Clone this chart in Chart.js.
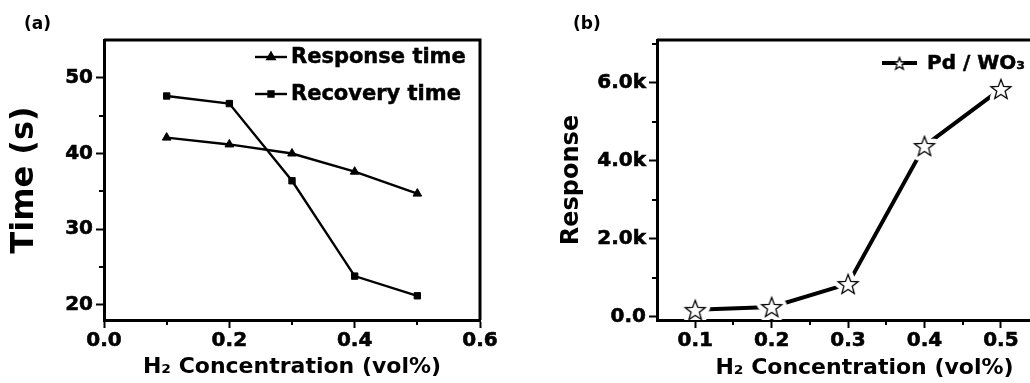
<!DOCTYPE html>
<html><head><meta charset="utf-8">
<script src="https://cdn.jsdelivr.net/npm/chart.js@4/dist/chart.umd.min.js"></script>
<style>
html,body{margin:0;padding:0;background:#fff;overflow:hidden;width:1030px;height:383px;}
#ca{position:absolute;left:0;top:0;}
#cb{position:absolute;left:515px;top:0;}
</style></head><body>
<canvas id="ca" width="515" height="383"></canvas>
<canvas id="cb" width="572" height="383"></canvas>
<script>
// ---- Panel (a) data ----
const concA = [0.1, 0.2, 0.3, 0.4, 0.5];
const responseTime = [42.1, 41.2, 40.0, 37.6, 34.7];
const recoveryTime = [47.6, 46.6, 36.4, 23.8, 21.2];
const xTicksA = [0, 0.2, 0.4, 0.6];
const xMinorA = [0.1, 0.3, 0.5];
const yTicksA = [20, 30, 40, 50];
const yMinorA = [25, 35, 45];

// ---- Panel (b) data ----
const concB = [0.1, 0.2, 0.3, 0.4, 0.5];
const responseB = [180, 256, 846, 4385, 5846];
const xTicksB = [0.1, 0.2, 0.3, 0.4, 0.5];
const xMinorB = [0.15, 0.25, 0.35, 0.45, 0.55];
const yTicksB = [0, 2000, 4000, 6000];
const yMinorB = [1000, 3000, 5000, 7000];

const FONT = "'DejaVu Sans', 'Liberation Sans', Arial, sans-serif";

function makeStar(size, R, halo) {
  const c = document.createElement('canvas');
  c.width = c.height = size;
  const g = c.getContext('2d');
  const cx = size / 2, cy = size / 2 + 1, r = R * 0.42;
  g.beginPath();
  for (let i = 0; i < 10; i++) {
    const a = -Math.PI / 2 + i * Math.PI / 5;
    const rr = i % 2 ? r : R;
    g.lineTo(cx + rr * Math.cos(a), cy + rr * Math.sin(a));
  }
  g.closePath();
  if (halo > 0) {
    g.lineJoin = 'round'; g.strokeStyle = '#fff'; g.lineWidth = halo; g.stroke();
  }
  g.fillStyle = '#fff'; g.fill();
  g.lineJoin = 'miter'; g.strokeStyle = '#000'; g.lineWidth = 1.3; g.stroke();
  return c;
}
const starBig = makeStar(36, 10.5, 10);
const starSmall = makeStar(18, 6.5, 0);

const pts = (xs, ys) => xs.map((x, i) => ({x: x, y: ys[i]}));

const decor = {
  id: 'decor',
  beforeDatasetsDraw(chart, args, o) {
    const ctx = chart.ctx, a = chart.chartArea;
    ctx.save();
    ctx.strokeStyle = '#000';
    ctx.lineWidth = 3;
    ctx.beginPath();
    ctx.moveTo(a.left, a.top);
    ctx.lineTo(a.right, a.top);
    ctx.lineTo(a.right, a.bottom);
    ctx.stroke();
    ctx.lineWidth = 2;
    const xs = chart.scales.x, ys = chart.scales.y;
    ctx.beginPath();
    o.xMinor.forEach(v => { const p = Math.round(xs.getPixelForValue(v)); ctx.moveTo(p, a.bottom); ctx.lineTo(p, a.bottom + 5); });
    o.yMinor.forEach(v => { const p = Math.round(ys.getPixelForValue(v)); ctx.moveTo(a.left, p); ctx.lineTo(a.left - 5, p); });
    ctx.stroke();
    ctx.fillStyle = '#000';
    ctx.font = 'bold 17px ' + FONT;
    ctx.textBaseline = 'middle';
    ctx.textAlign = 'left';
    ctx.fillText(o.panel, o.panelX, 25);
    ctx.restore();
  },
  afterDatasetsDraw(chart, args, o) {
    const ctx = chart.ctx;
    ctx.save();
    chart.data.datasets.forEach((ds, i) => {
      const y = o.legY + i * o.legGap;
      ctx.strokeStyle = '#000';
      ctx.lineWidth = ds.borderWidth;
      ctx.beginPath();
      ctx.moveTo(o.legX, y);
      ctx.lineTo(o.legX + o.legLen, y);
      ctx.stroke();
      Chart.helpers.drawPoint(ctx, {
        pointStyle: ds.legendStyle || ds.pointStyle, radius: ds.legendRadius || ds.pointRadius, rotation: 0, borderWidth: 1
      }, o.legX + o.legLen / 2, y);
      ctx.fillStyle = '#000';
      ctx.strokeStyle = '#000';
      ctx.lineWidth = 0.5;
      ctx.font = 'bold ' + o.legFont + 'px ' + FONT;
      ctx.textBaseline = 'middle';
      ctx.textAlign = 'left';
      ctx.fillText(ds.label, o.legX + o.legLen + o.legTextGap, y + 1);
      ctx.strokeText(ds.label, o.legX + o.legLen + o.legTextGap, y + 1);
    });
    ctx.restore();
  }
};

function axisCommon() {
  return {
    border: {display: true, color: '#000', width: 3},
    grid: {display: true, drawOnChartArea: false, drawTicks: true, tickLength: 8, tickWidth: 2, tickColor: '#000'},
  };
}
const tickFont = {family: FONT, size: 20, weight: 'bold'};
const fitX = s => { s.height = 63; };

new Chart(document.getElementById('ca'), {
  type: 'line',
  data: {
    datasets: [
      {label: 'Response time', data: pts(concA, responseTime), borderColor: '#000', backgroundColor: '#000',
       borderWidth: 2.4, pointStyle: 'triangle', pointRadius: 5, legendRadius: 4, pointBorderWidth: 1, tension: 0},
      {label: 'Recovery time', data: pts(concA, recoveryTime), borderColor: '#000', backgroundColor: '#000',
       borderWidth: 2.4, pointStyle: 'rect', pointRadius: 4.5, legendRadius: 3.5, pointBorderWidth: 1, tension: 0}
    ]
  },
  options: {
    responsive: false, animation: false, devicePixelRatio: 1,
    layout: {padding: {top: 40, right: 35, left: 0, bottom: 0}},
    plugins: {
      legend: {display: false}, tooltip: {enabled: false},
      decor: {xMinor: xMinorA, yMinor: yMinorA, panel: '(a)', panelX: 24,
              legX: 255, legY: 57, legGap: 37, legLen: 32, legTextGap: 4, legFont: 21}
    },
    scales: {
      x: Object.assign(axisCommon(), {
        type: 'linear', min: 0, max: 0.6,
        afterBuildTicks: s => { s.ticks = xTicksA.map(v => ({value: v})); },
        afterFit: fitX,
        ticks: {color: '#000', font: tickFont, padding: 1, textStrokeColor: '#000', textStrokeWidth: 0.6,
                maxRotation: 0, autoSkip: false, callback: v => Number(v).toFixed(1)},
        title: {display: true, text: 'H₂ Concentration (vol%)', color: '#000',
                font: {family: FONT, size: 22, weight: 'bold'}, padding: {top: 0, bottom: 3}}
      }),
      y: Object.assign(axisCommon(), {
        type: 'linear', min: 18, max: 55,
        afterBuildTicks: s => { s.ticks = yTicksA.map(v => ({value: v})); },
        afterFit: s => { s.width = 104; },
        ticks: {color: '#000', font: tickFont, padding: 3, textStrokeColor: '#000', textStrokeWidth: 0.6,
                autoSkip: false, callback: v => String(v)},
        title: {display: true, text: 'Time (s)', color: '#000',
                font: {family: FONT, size: 32, weight: 'bold'}, padding: {top: 5, bottom: 0}}
      })
    }
  },
  plugins: [decor]
});

new Chart(document.getElementById('cb'), {
  type: 'line',
  data: {
    datasets: [
      {label: 'Pd / WO₃', data: pts(concB, responseB), borderColor: '#000', backgroundColor: '#fff',
       borderWidth: 4, pointStyle: starBig, legendStyle: starSmall, pointRadius: 11, tension: 0}
    ]
  },
  options: {
    responsive: false, animation: false, devicePixelRatio: 1,
    layout: {padding: {top: 40, right: 0, left: 0, bottom: 0}},
    plugins: {
      legend: {display: false}, tooltip: {enabled: false},
      decor: {xMinor: xMinorB, yMinor: yMinorB, panel: '(b)', panelX: 58,
              legX: 367, legY: 63, legGap: 37, legLen: 35, legTextGap: 10, legFont: 20}
    },
    scales: {
      x: Object.assign(axisCommon(), {
        type: 'linear', min: 0.05, max: 0.593,
        afterBuildTicks: s => { s.ticks = xTicksB.map(v => ({value: v})); },
        afterFit: fitX,
        ticks: {color: '#000', font: tickFont, padding: 1, textStrokeColor: '#000', textStrokeWidth: 0.6,
                maxRotation: 0, autoSkip: false, callback: v => Number(v).toFixed(1)},
        title: {display: true, text: 'H₂ Concentration (vol%)', color: '#000',
                font: {family: FONT, size: 22, weight: 'bold'}, padding: {top: 0, bottom: 2}}
      }),
      y: Object.assign(axisCommon(), {
        type: 'linear', min: -80, max: 7100,
        afterBuildTicks: s => { s.ticks = yTicksB.map(v => ({value: v})); },
        afterFit: s => { s.width = 142; },
        ticks: {color: '#000', font: tickFont, padding: 3, textStrokeColor: '#000', textStrokeWidth: 0.6,
                autoSkip: false, callback: v => v === 0 ? '0.0' : (v / 1000).toFixed(1) + 'k'},
        title: {display: true, text: 'Response', color: '#000',
                font: {family: FONT, size: 24, weight: 'bold'}, padding: {top: 42, bottom: 0}}
      })
    }
  },
  plugins: [decor]
});
</script>
</body></html>
